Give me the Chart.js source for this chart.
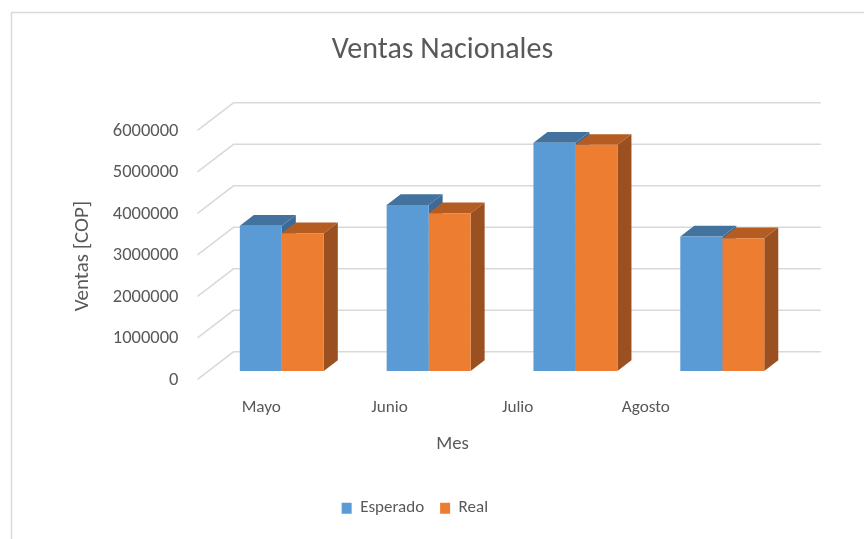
<!DOCTYPE html>
<html>
<head>
<meta charset="utf-8">
<title>Ventas Nacionales</title>
<script src="https://cdn.jsdelivr.net/npm/chart.js@4"></script>
<style>
  html, body { margin: 0; padding: 0; background: #fff; }
</style>
</head>
<body>
<canvas id="myChart" width="864" height="539"></canvas>
<script>
'use strict';

// datos
var meses = ['Mayo', 'Junio', 'Julio', 'Agosto'];
var esperado = [3500000, 4000000, 5500000, 3240000];
var real = [3320000, 3800000, 5450000, 3200000];
var ticksVentas = [0, 1000000, 2000000, 3000000, 4000000, 5000000, 6000000];

var fuente = 'Carlito, Calibri, Lato, sans-serif';
var gris = '#595959';

// desplazamientos de la vista 3D respecto al plano de las barras
var FRENTE = { dx: -10.9, dy: 8.3 };
var FONDO = { dx: 25.1, dy: -19.2 };
var PROF = { dx: 14, dy: -10.7 };

var caras = [
  { lado: '#3d6a96', arriba: '#44729e' },
  { lado: '#9a5020', arriba: '#b55c23' }
];

function poligono(ctx, pts, color) {
  ctx.beginPath();
  ctx.moveTo(pts[0][0], pts[0][1]);
  for (var i = 1; i < pts.length; i++) ctx.lineTo(pts[i][0], pts[i][1]);
  ctx.closePath();
  ctx.fillStyle = color;
  ctx.fill();
}

var vista3d = {
  id: 'vista3d',
  beforeDraw: function (chart) {
    var ctx = chart.ctx;
    ctx.save();
    ctx.strokeStyle = '#d9d9d9';
    ctx.lineWidth = 1.5;
    ctx.strokeRect(11.5, 12.5, 900, 600);
    ctx.restore();
  },
  beforeDatasetsDraw: function (chart) {
    var ctx = chart.ctx, ca = chart.chartArea, ys = chart.scales.y;
    ctx.save();
    // paredes: lineas de division
    ctx.strokeStyle = '#d9d9d9';
    ctx.lineWidth = 1.5;
    ticksVentas.forEach(function (v) {
      var y = ys.getPixelForValue(v);
      ctx.beginPath();
      ctx.moveTo(ca.left + FRENTE.dx, y + FRENTE.dy);
      ctx.lineTo(ca.left + FONDO.dx, y + FONDO.dy);
      ctx.lineTo(ca.right + FONDO.dx, y + FONDO.dy);
      ctx.stroke();
    });
    // lados y techos de las barras
    chart.data.datasets.forEach(function (ds, d) {
      chart.getDatasetMeta(d).data.forEach(function (bar) {
        var p = bar.getProps(['x', 'y', 'base', 'width'], true);
        var l = p.x - p.width / 2, r = p.x + p.width / 2;
        poligono(ctx, [[r, p.y], [r + PROF.dx, p.y + PROF.dy], [r + PROF.dx, p.base + PROF.dy], [r, p.base]], caras[d].lado);
        poligono(ctx, [[l, p.y], [l + PROF.dx, p.y + PROF.dy], [r + PROF.dx, p.y + PROF.dy], [r, p.y]], caras[d].arriba);
      });
    });
    ctx.restore();
  },
  afterDraw: function (chart) {
    var ctx = chart.ctx, ca = chart.chartArea, xs = chart.scales.x;
    var centro = (ca.left + ca.right) / 2;
    var centroFrente = centro - 48.5;
    ctx.save();
    ctx.fillStyle = gris;
    ctx.textAlign = 'center';
    ctx.textBaseline = 'alphabetic';

    ctx.font = '30px ' + fuente;
    ctx.fillText('Ventas Nacionales', 442.5, 57.7);

    // etiquetas del eje x sobre el borde frontal del piso
    ctx.font = '17.2px ' + fuente;
    meses.forEach(function (m, i) {
      var px = xs.getPixelForValue(i);
      ctx.fillText(m, centroFrente + (px - centro) * 0.873, 411.7);
    });

    ctx.font = '18.7px ' + fuente;
    ctx.fillText('Mes', centroFrente - 1, 449);

    ctx.save();
    ctx.translate(83, (ca.top + ca.bottom) / 2 + 9.5);
    ctx.rotate(-Math.PI / 2);
    ctx.textBaseline = 'middle';
    ctx.font = '21px ' + fuente;
    ctx.fillText('Ventas [COP]', 0, 0);
    ctx.restore();

    ctx.restore();
  }
};

var ctx = document.getElementById('myChart').getContext('2d');
var chart = new Chart(ctx, {
  type: 'bar',
  data: {
    labels: meses,
    datasets: [{
      label: 'Esperado',
      data: esperado,
      backgroundColor: '#5b9bd5',
      borderWidth: 0,
      categoryPercentage: 0.572,
      barPercentage: 1
    }, {
      label: 'Real',
      data: real,
      backgroundColor: '#ed7d31',
      borderWidth: 0,
      categoryPercentage: 0.572,
      barPercentage: 1
    }]
  },
  options: {
    responsive: false,
    animation: false,
    layout: { padding: { top: 122, left: 34, right: 68.3, bottom: 12.3 } },
    plugins: {
      title: { display: false },
      tooltip: { enabled: false },
      legend: {
        position: 'bottom',
        labels: {
          boxWidth: 10,
          boxHeight: 11,
          padding: 16,
          color: gris,
          font: { family: fuente, size: 17 }
        }
      }
    },
    scales: {
      x: {
        grid: { display: false, drawTicks: false },
        border: { display: false },
        ticks: { display: false },
        afterFit: function (s) { s.height = 112.7; }
      },
      y: {
        min: 0,
        max: 6000000,
        grid: { display: false, drawTicks: false },
        border: { display: false },
        afterBuildTicks: function (s) {
          s.ticks = ticksVentas.map(function (v) { return { value: v }; });
        },
        ticks: {
          padding: 30,
          labelOffset: 9,
          color: gris,
          font: { family: fuente, size: 18.5 },
          callback: function (v) { return String(v); }
        },
        afterFit: function (s) { s.width = 174.4; }
      }
    }
  },
  plugins: [vista3d]
});
</script>
</body>
</html>
